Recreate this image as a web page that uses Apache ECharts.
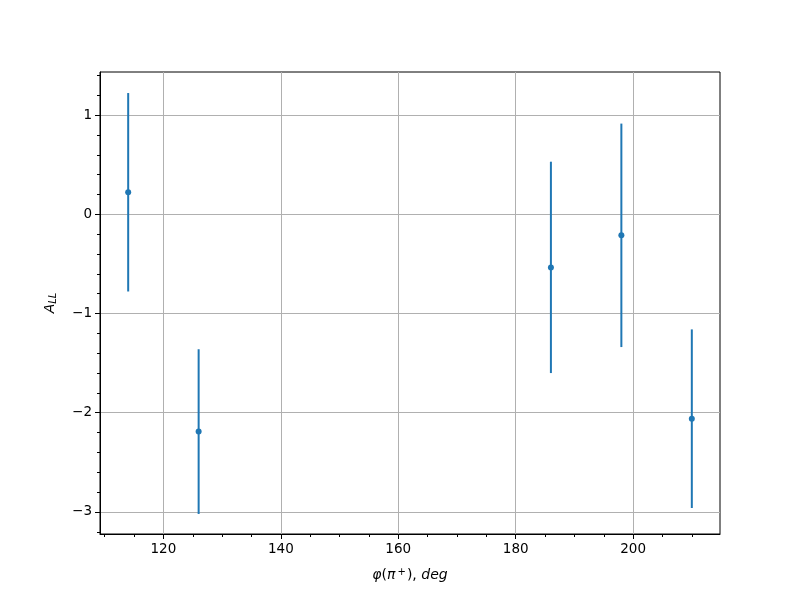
<!DOCTYPE html>
<html><head><meta charset="utf-8">
<script src="https://cdn.jsdelivr.net/npm/echarts@6/dist/echarts.min.js"></script>
<style>html,body{margin:0;padding:0;background:#fff}#c{width:800px;height:600px}</style>
</head><body><div id="c"></div>
<script>
const xValues = [114, 126, 186, 198, 210];
const yValues = [0.222, -2.19, -0.535, -0.212, -2.06];
const yErrors = [1.0, 0.83, 1.065, 1.126, 0.9];
const xTicks = [120, 140, 160, 180, 200];
const xMinorTicks = [110, 115, 125, 130, 135, 145, 150, 155, 165, 170, 175, 185, 190, 195, 205, 210];
const yTicks = [-3, -2, -1, 0, 1];
const yMinorTicks = [-3.2, -2.8, -2.6, -2.4, -2.2, -1.8, -1.6, -1.4, -1.2, -0.8, -0.6, -0.4, -0.2, 0.2, 0.4, 0.6, 0.8, 1.2, 1.4];

const xMin = 109.2, xMax = 214.8, yMin = -3.222, yMax = 1.434;
const color = '#1f77b4';
const font = 'DejaVu Sans';

const chart = echarts.init(document.getElementById('c'), null, {renderer: 'canvas'});
const fmtNum = v => (v < 0 ? '\u2212' + Math.abs(v) : String(v));

const baseX = {type: 'value', min: xMin, max: xMax, gridIndex: 0};
const baseY = {type: 'value', min: yMin, max: yMax, gridIndex: 0};

chart.setOption({
  animation: false,
  grid: {left: 100, right: 80, top: 72, bottom: 66, show: true, borderColor: '#000', borderWidth: 1, backgroundColor: 'transparent'},
  xAxis: [
    Object.assign({}, baseX, {
      position: 'bottom',
      name: '{i|\u03c6}{n|(}{i|\u03c0}{sup|+}{n|), }{i|deg}',
      nameLocation: 'middle', nameGap: 33,
      nameTextStyle: {rich: {
        i: {fontFamily: font, fontStyle: 'italic', fontSize: 14, color: '#000'},
        n: {fontFamily: font, fontSize: 14, color: '#000'},
        sup: {fontFamily: font, fontSize: 10, color: '#000', verticalAlign: 'top', padding: [0, 1, 6, 2]}
      }},
      axisLine: {show: true, onZero: false, lineStyle: {color: '#000', width: 1}},
      axisTick: {show: true, inside: false, length: 5, customValues: xTicks, lineStyle: {color: '#000', width: 1}},
      axisLabel: {show: true, margin: 8, customValues: xTicks, fontFamily: font, fontSize: 13.5, color: '#000', formatter: fmtNum},
      splitLine: {show: true, lineStyle: {color: '#b0b0b0', width: 1}}
    }),
    Object.assign({}, baseX, {
      position: 'bottom',
      axisLine: {show: false, onZero: false},
      axisTick: {show: true, inside: false, length: 3, customValues: xMinorTicks, lineStyle: {color: '#000', width: 1}},
      axisLabel: {show: false},
      splitLine: {show: false}
    })
  ],
  yAxis: [
    Object.assign({}, baseY, {
      position: 'left',
      name: '{i|A}{sub|LL}',
      nameLocation: 'middle', nameGap: 42, nameRotate: 90,
      nameTextStyle: {rich: {
        i: {fontFamily: font, fontStyle: 'italic', fontSize: 14, color: '#000'},
        sub: {fontFamily: font, fontStyle: 'italic', fontSize: 10, color: '#000', verticalAlign: 'bottom', padding: [5, 0, 0, 0]}
      }},
      axisLine: {show: true, onZero: false, lineStyle: {color: '#000', width: 1}},
      axisTick: {show: true, inside: false, length: 5, customValues: yTicks, lineStyle: {color: '#000', width: 1}},
      axisLabel: {show: true, margin: 8, customValues: yTicks, fontFamily: font, fontSize: 13.5, color: '#000', formatter: fmtNum},
      splitLine: {show: true, lineStyle: {color: '#b0b0b0', width: 1}}
    }),
    Object.assign({}, baseY, {
      position: 'left',
      axisLine: {show: false, onZero: false},
      axisTick: {show: true, inside: false, length: 3, customValues: yMinorTicks, lineStyle: {color: '#000', width: 1}},
      axisLabel: {show: false},
      splitLine: {show: false}
    })
  ],
  series: [
    {
      type: 'custom',
      xAxisIndex: 0, yAxisIndex: 0,
      data: xValues.map((x, i) => [x, yValues[i], yErrors[i]]),
      renderItem: function (params, api) {
        const x = api.value(0), y = api.value(1), e = api.value(2);
        const p1 = api.coord([x, y - e]);
        const p2 = api.coord([x, y + e]);
        return {type: 'line', shape: {x1: p1[0], y1: p1[1], x2: p2[0], y2: p2[1]},
                style: {stroke: color, lineWidth: 2}};
      },
      z: 2
    },
    {
      type: 'scatter',
      xAxisIndex: 0, yAxisIndex: 0,
      data: xValues.map((x, i) => [x, yValues[i]]),
      symbol: 'circle', symbolSize: 6,
      itemStyle: {color: color, opacity: 1},
      z: 3
    }
  ]
});
</script></body></html>
